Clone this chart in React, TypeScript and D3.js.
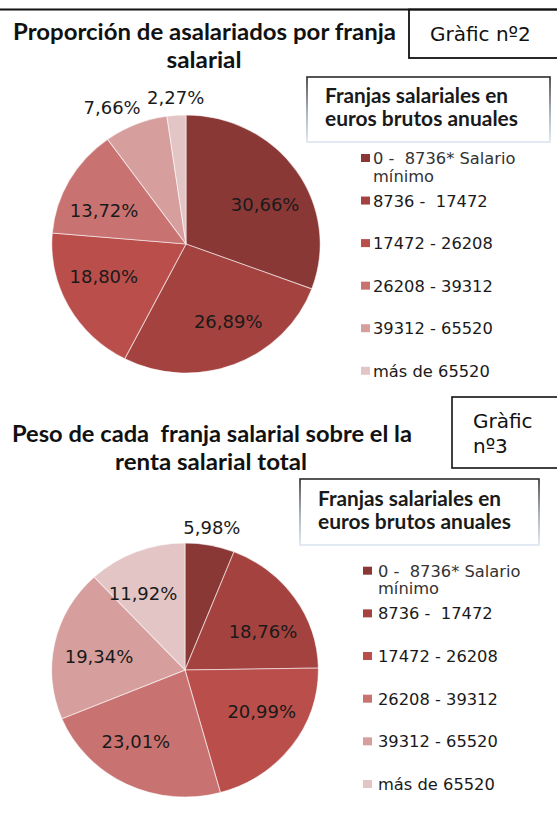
import React from "react";
import * as d3 from "d3";

// ---- data ----
const CATEGORY_LINES: string[][] = [
  ["0 -  8736* Salario", "mínimo"],
  ["8736 -  17472"],
  ["17472 - 26208"],
  ["26208 - 39312"],
  ["39312 - 65520"],
  ["más de 65520"],
];
const WORKERS_SHARE = [30.66, 26.89, 18.8, 13.72, 7.66, 2.27];
const INCOME_SHARE = [5.98, 18.76, 20.99, 23.01, 19.34, 11.92];
const SLICE_COLORS = ["#8a3836", "#a3423f", "#b94e4b", "#c87371", "#d69f9e", "#e3c5c5"];
const TITLE_1 = ["Proporción de asalariados por franja", "salarial"];
const TITLE_2 = ["Peso de cada  franja salarial sobre el la", "renta salarial total"];
const LEGEND_TITLE = ["Franjas salariales en", "euros brutos anuales"];
const TAG_1 = ["Gràfic nº2"];
const TAG_2 = ["Gràfic", "nº3"];

const W = 557;
const H = 816;
const LABEL_FONT = "'DejaVu Sans', Verdana, sans-serif";
const TITLE_FONT = "Lato, 'Open Sans', sans-serif";
const fmt = (v: number) => v.toFixed(2).replace(".", ",") + "%";
const PRE = { whiteSpace: "pre" as const };

type PieProps = { values: number[]; cx: number; cy: number; r: number; sx: number };

function PieChart({ values, cx, cy, r, sx }: PieProps) {
  const pie = d3.pie<number>().sort(null).value((d) => d);
  const arcs = pie(values);
  const arc = d3.arc<d3.PieArcDatum<number>>().innerRadius(0).outerRadius(r);
  const labelW = 57;
  return (
    <g>
      <g transform={`translate(${cx},${cy}) scale(${sx},1)`}>
        {arcs.map((a, i) => (
          <path key={i} d={arc(a) || ""} fill={SLICE_COLORS[i]} stroke="#ffffff" strokeOpacity={0.55} strokeWidth={1} />
        ))}
      </g>
      {arcs.map((a, i) => {
        const th = (a.startAngle + a.endAngle) / 2;
        const s = Math.sin(th);
        const c = Math.cos(th);
        let x: number, y: number;
        if (a.value < 10) {
          const R = r + 10;
          const ax = R * s * sx;
          const ay = -R * c;
          const k = Math.max(0, Math.min(1, (Math.abs(s) - 0.2) * 4));
          x = ax + Math.sign(s) * (labelW / 2) * k;
          y = ay - 8;
        } else {
          const phi = Math.atan2(1.4 * s, c);
          const d = 0.685 * r;
          x = d * Math.sin(phi);
          y = -d * Math.cos(phi);
        }
        return (
          <text
            key={"l" + i}
            x={cx + x}
            y={cy + y + 6.5}
            textAnchor="middle"
            fontFamily={LABEL_FONT}
            fontSize={18}
            fill="#1a1a1a"
          >
            {fmt(a.value)}
          </text>
        );
      })}
    </g>
  );
}

type LegendProps = {
  box: [number, number, number, number];
  titleX: number;
  titleBase: number;
  sqX: number;
  textX: number;
  base0: number;
  step: number;
  gid: string;
};

function Legend({ box, titleX, titleBase, sqX, textX, base0, step, gid }: LegendProps) {
  const [bx, by, bw, bh] = box;
  return (
    <g>
      <defs>
        <linearGradient id={gid} x1="0" y1="0" x2="0" y2="1">
          <stop offset="0" stopColor="#2a2a2a" />
          <stop offset="0.55" stopColor="#9aa3b0" />
          <stop offset="1" stopColor="#dbe4f0" />
        </linearGradient>
      </defs>
      <rect x={bx} y={by} width={bw} height={bh} fill="#ffffff" stroke={`url(#${gid})`} strokeWidth={1.6} />
      {LEGEND_TITLE.map((t, i) => (
        <text
          key={i}
          x={titleX}
          y={titleBase + i * 23}
          fontFamily={TITLE_FONT}
          fontWeight={700}
          fontSize={20}
          fill="#1a1a1a"
          textLength={i === 0 ? 183 : 193}
          lengthAdjust="spacingAndGlyphs"
        >
          {t}
        </text>
      ))}
      {CATEGORY_LINES.map((lines, i) => {
        const b = base0 + i * step;
        return (
          <g key={i}>
            <rect x={sqX} y={b - 10} width={9} height={8} fill={SLICE_COLORS[i]} />
            {lines.map((ln, j) => (
              <text
                key={j}
                x={textX}
                y={b + j * 17.5}
                fontFamily={LABEL_FONT}
                fontSize={16.3}
                fill={i === 0 ? "#333333" : "#1a1a1a"}
                style={PRE}
              >
                {ln}
              </text>
            ))}
          </g>
        );
      })}
    </g>
  );
}

export default function App() {
  return (
    <svg
      width={W}
      height={H}
      viewBox={`0 0 ${W} ${H}`}
      style={{ position: "absolute", left: 0, top: 0, background: "#ffffff" }}
    >
      <rect x={0} y={0} width={W} height={H} fill="#ffffff" />
      {/* top rule */}
      <line x1={0} x2={W} y1={9.5} y2={9.5} stroke="#111" strokeWidth={2} />

      {/* chart 1 */}
      <rect x={409} y={9.5} width={160} height={48.5} fill="none" stroke="#111" strokeWidth={1.8} />
      <text x={430} y={41} fontFamily={LABEL_FONT} fontSize={20} fill="#111">
        {TAG_1[0]}
      </text>
      <text x={204.5} y={40} textAnchor="middle" fontFamily={TITLE_FONT} fontWeight={700} fontSize={22} fill="#111" textLength={383} lengthAdjust="spacingAndGlyphs">
        {TITLE_1[0]}
      </text>
      <text x={204} y={68} textAnchor="middle" fontFamily={TITLE_FONT} fontWeight={700} fontSize={22} fill="#111" textLength={75} lengthAdjust="spacingAndGlyphs">
        {TITLE_1[1]}
      </text>
      <PieChart values={WORKERS_SHARE} cx={186} cy={244} r={129} sx={1.04} />
      <Legend box={[307, 77, 243, 65]} titleX={325} titleBase={103} sqX={361} textX={373} base0={164} step={42.55} gid="lg1" />

      {/* chart 2 */}
      <rect x={452} y={397} width={120} height={71} fill="none" stroke="#111" strokeWidth={1.6} />
      <text x={473} y={428} fontFamily={LABEL_FONT} fontSize={20} fill="#111">
        {TAG_2[0]}
      </text>
      <text x={473} y={453} fontFamily={LABEL_FONT} fontSize={20} fill="#111">
        {TAG_2[1]}
      </text>
      <text x={212} y={442} textAnchor="middle" fontFamily={TITLE_FONT} fontWeight={700} fontSize={22} fill="#111" textLength={400} lengthAdjust="spacingAndGlyphs" style={PRE}>
        {TITLE_2[0]}
      </text>
      <text x={211} y={470} textAnchor="middle" fontFamily={TITLE_FONT} fontWeight={700} fontSize={22} fill="#111" textLength={192} lengthAdjust="spacingAndGlyphs">
        {TITLE_2[1]}
      </text>
      <PieChart values={INCOME_SHARE} cx={185} cy={670} r={127} sx={1.05} />
      <Legend box={[300, 479, 239, 66]} titleX={318} titleBase={506} sqX={363} textX={378} base0={576.7} step={42.66} gid="lg2" />
    </svg>
  );
}
